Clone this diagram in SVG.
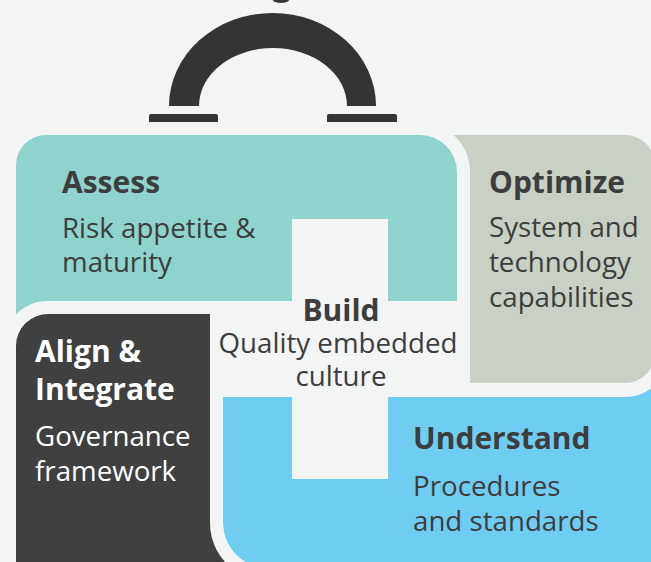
<svg xmlns="http://www.w3.org/2000/svg" width="651" height="562" viewBox="0 0 651 562">
<style>
.t{font-family:"Open Sans","Noto Sans","Liberation Sans",sans-serif;fill:#3d3d3d}
.h{font-weight:700;font-size:30px}
.b{font-size:27.7px}
.w{fill:#ffffff}
.gap{stroke:#f3f5f4;paint-order:stroke}
</style>
<rect width="651" height="562" fill="#f3f5f4"/>
<g id="handle" fill="#333534">
<ellipse cx="281" cy="0" rx="8" ry="3"/>
<path d="M169,106 A103.5,93 0 0 1 376,106 L347,106 A74,58 0 0 0 199,106 Z"/>
<rect x="149" y="114" width="69" height="10" rx="2"/>
<rect x="327" y="114" width="70" height="10" rx="2"/>
</g>
<g id="understand">
<path d="M223,397 H600 V340 H700 V568 H268 A45,45 0 0 1 223,523 Z" fill="#6fcdf2"/>
<rect x="292" y="397" width="96" height="82" fill="#f3f5f4"/>
</g>
<g id="optimize">
<path class="gap" stroke-width="28" d="M440,135 H625 A30,30 0 0 1 655,165 V353 A30,30 0 0 1 625,383 H470 V250 H440 Z" fill="#c9d0c5"/>
</g>
<g id="assess">
<path class="gap" stroke-width="26" d="M16,165 A30,30 0 0 1 46,135 H420 A37,37 0 0 1 457,172 V301 H200 V340 H16 Z" fill="#8fd4cc"/>
<rect x="292" y="219" width="96" height="83" fill="#f3f5f4"/>
</g>
<g id="align">
<path class="gap" stroke-width="26" d="M16,346 A32,32 0 0 1 48,314 H210 V523 A58,58 0 0 0 234,570 H16 Z" fill="#404040"/>
</g>
<g id="labels">
<text class="t h" x="62" y="193">Assess</text>
<text class="t b" x="62" y="238">Risk appetite &amp;</text>
<text class="t b" x="62" y="272">maturity</text>
<text class="t h" x="489" y="193">Optimize</text>
<text class="t b" x="489" y="237">System and</text>
<text class="t b" x="489" y="272">technology</text>
<text class="t b" x="489" y="307">capabilities</text>
<text class="t h" x="341" y="321" text-anchor="middle">Build</text>
<text class="t b" x="338" y="353" text-anchor="middle">Quality embedded</text>
<text class="t b" x="341" y="386" text-anchor="middle">culture</text>
<text class="t h w" x="35" y="362">Align &amp;</text>
<text class="t h w" x="35" y="400">Integrate</text>
<text class="t b w" x="35" y="446">Governance</text>
<text class="t b w" x="35" y="481">framework</text>
<text class="t h" x="413" y="449">Understand</text>
<text class="t b" x="413" y="496">Procedures</text>
<text class="t b" x="413" y="531">and standards</text>
</g>
</svg>
